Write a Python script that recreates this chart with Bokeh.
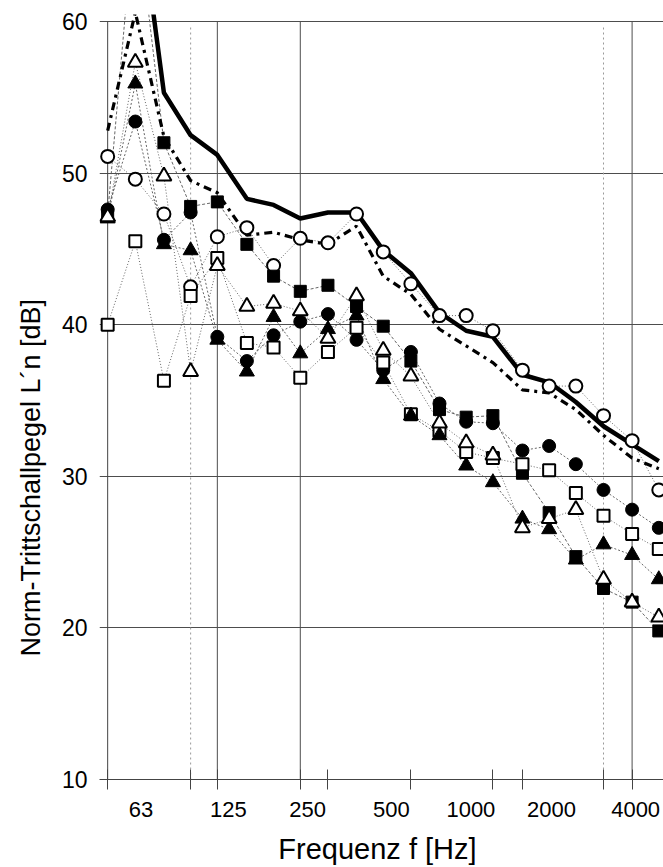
import numpy as np
from bokeh.plotting import figure
from bokeh.models import FixedTicker, Title
from bokeh.embed import file_html
from bokeh.resources import INLINE

# third-octave band centre frequencies [Hz]
freqs = [50, 63, 80, 100, 125, 160, 200, 250, 315, 400, 500,
         630, 800, 1000, 1250, 1600, 2000, 2500, 3150, 4000, 5000]

# marker series (L'n in dB)
open_circle = [51.1, 49.6, 47.3, 42.5, 45.8, 46.4, 43.9, 45.7, 45.4, 47.3, 44.8,
               42.7, 40.6, 40.6, 39.6, 37.0, 35.95, 35.95, 34.0, 32.35, 29.1]
filled_circle = [47.6, 53.4, 45.6, 47.4, 39.2, 37.6, 39.3, 40.2, 40.7, 39.0, 37.0,
                 38.2, 34.8, 33.6, 33.5, 31.7, 32.0, 30.8, 29.1, 27.8, 26.6]
filled_square = [47.3, 68.0, 52.0, 47.8, 48.1, 45.3, 43.2, 42.2, 42.6, 41.2, 39.9,
                 37.6, 34.4, 33.9, 34.0, 30.2, 27.6, 24.7, 22.6, 21.7, 19.8]
open_square = [40.0, 45.5, 36.3, 41.9, 44.4, 38.8, 38.5, 36.5, 38.2, 39.8, 37.5,
               34.1, 33.0, 31.6, 31.2, 30.8, 30.4, 28.9, 27.4, 26.2, 25.2]
filled_triangle = [47.0, 55.9, 45.3, 44.9, 39.0, 36.9, 40.5, 38.1, 39.7, 40.6, 36.4,
                   34.0, 32.7, 30.7, 29.6, 27.2, 26.5, 24.5, 25.5, 24.8, 23.2]
open_triangle = [47.1, 57.3, 49.8, 36.9, 43.9, 41.2, 41.4, 40.9, 39.1, 41.9, 38.3,
                 36.6, 33.5, 32.2, 31.4, 26.6, 27.2, 27.8, 23.2, 21.7, 20.7]

# summary curves
thick_curve = [np.nan, 69.5, 55.3, 52.5, 51.2, 48.3, 47.9, 47.0, 47.4, 47.4, 44.9,
               43.4, 40.8, 39.6, 39.2, 36.7, 36.2, 34.9, 33.3, 32.1, 31.0]
dashed_curve = [52.8, 60.6, 52.4, 49.5, 48.7, 45.9, 46.1, 45.6, 45.3, 46.5, 43.2,
                42.0, 39.7, 38.6, 37.5, 35.7, 35.5, 34.4, 32.7, 31.2, 30.5]

# axes
tick_labels = ["63", "125", "250", "500", "1000", "2000", "4000"]
tick_label_pos = [66, 137, 266, 535, 1040, 2040, 4120]
tick_mark_pos = [50, 100, 125, 250, 315, 630, 1250, 1600, 3150, 4000]
grid_pos = [125, 250, 4000]
band_limits = [100, 3150]
y_ticks = [10, 20, 30, 40, 50, 60]

FONT = "Liberation Sans"

p = figure(width=663, height=867, x_axis_type="log", x_range=(46.7, 5200),
           y_range=(10, 60.46), output_backend="svg", toolbar_location=None,
           min_border_left=99, min_border_right=0, min_border_top=14,
           min_border_bottom=83)
p.outline_line_color = None
p.background_fill_color = "white"
p.border_fill_color = "white"

# x axis
p.xaxis.ticker = FixedTicker(ticks=tick_label_pos, minor_ticks=tick_mark_pos)
p.xaxis.major_label_overrides = {pos: lab for pos, lab in zip(tick_label_pos, tick_labels)}
p.xaxis.major_tick_out = 0
p.xaxis.major_tick_in = 0
p.xaxis.minor_tick_out = 10
p.xaxis.minor_tick_in = 10
p.xaxis.minor_tick_line_color = "#444444"
p.xaxis.axis_line_color = "#444444"
p.xaxis.major_label_text_font = FONT
p.xaxis.major_label_text_font_size = "22px"
p.xaxis.major_label_text_color = "black"
p.xaxis.major_label_standoff = 12
p.xaxis.axis_label = "Frequenz  f [Hz]"
p.xaxis.axis_label_text_font = FONT
p.xaxis.axis_label_text_font_size = "29px"
p.xaxis.axis_label_text_font_style = "normal"
p.xaxis.axis_label_text_color = "black"
p.xaxis.axis_label_standoff = 13

# y axis
p.yaxis.ticker = FixedTicker(ticks=y_ticks, minor_ticks=[])
p.yaxis.major_tick_out = 0
p.yaxis.major_tick_in = 0
p.yaxis.axis_line_color = None
p.yaxis.major_label_text_font = FONT
p.yaxis.major_label_text_font_size = "23px"
p.yaxis.major_label_text_color = "black"
p.yaxis.major_label_standoff = 12

# grids
p.xgrid.visible = False
p.ygrid.ticker = FixedTicker(ticks=y_ticks)
p.ygrid.grid_line_color = "#4d4d4d"
p.ygrid.grid_line_width = 1

ylo, yhi = y_ticks[0], y_ticks[-1]
p.segment(x0=grid_pos, y0=[ylo] * len(grid_pos), x1=grid_pos, y1=[yhi] * len(grid_pos),
          line_color="#4d4d4d", line_width=1)
p.segment(x0=[freqs[0]], y0=[ylo], x1=[freqs[0]], y1=[yhi],
          line_color="#444444", line_width=1)
p.segment(x0=band_limits, y0=[ylo] * 2, x1=band_limits, y1=[yhi - 0.3] * 2,
          line_color="#9a9a9a", line_width=1, line_dash="2 3")

# thin connecting lines of the measured series
conn = [(open_circle, "1 2"), (filled_circle, "2 2"), (filled_square, "3 2"),
        (open_square, "1 2"), (filled_triangle, "2 2"), (open_triangle, "1 2")]
for ys, dash in conn:
    p.line(freqs, ys, line_color="#555555", line_width=0.9, line_dash=dash)

# summary curves
p.line(freqs, dashed_curve, line_color="black", line_width=3.2, line_dash="8 5 3 5")
p.line(freqs, thick_curve, line_color="black", line_width=4.5)

# markers
p.scatter(freqs, open_circle, marker="circle", size=13, fill_color="white",
          line_color="black", line_width=2)
p.scatter(freqs, filled_circle, marker="circle", size=13, fill_color="black",
          line_color="black", line_width=1)
p.scatter(freqs, filled_square, marker="square", size=12, fill_color="black",
          line_color="black", line_width=1)
p.scatter(freqs, open_square, marker="square", size=12, fill_color="white",
          line_color="black", line_width=2)
p.scatter(freqs, filled_triangle, marker="triangle", size=15, fill_color="black",
          line_color="black", line_width=1)
p.scatter(freqs, open_triangle, marker="triangle", size=15, fill_color="white",
          line_color="black", line_width=2)

# y axis title (side title, anchored from the bottom so it sits like the original)
p.add_layout(Title(text="Norm-Trittschallpegel L´n [dB]", align="left", offset=123,
                   text_font=FONT, text_font_size="27px", text_font_style="normal",
                   text_color="black", standoff=26), "left")

open("out.html", "w").write(file_html(p, INLINE))
